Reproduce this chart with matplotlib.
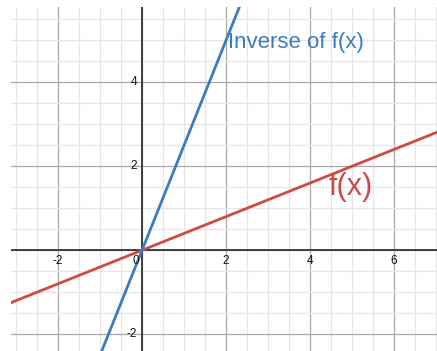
import numpy as np
import matplotlib.pyplot as plt
from matplotlib.ticker import MultipleLocator

# f(x) = 0.4x and its inverse 2.5x
f_slope = 0.4
inv_slope = 2.5
x_line = np.array([-3.2, 7.2])
x_inv = np.array([-1.0, 2.4])

x_ticks = [-2, 2, 4, 6]
y_ticks = [-2, 2, 4]

blue = '#3d7cc0'
red = '#cc4b47'

fig = plt.figure(figsize=(4.37, 3.51), dpi=100)
ax = fig.add_axes([11 / 437, 0, 426 / 437, 344 / 351])
ax.set_xlim(-3.12, 7.02)
ax.set_ylim(-2.40, 5.79)

# grid
ax.xaxis.set_major_locator(MultipleLocator(2))
ax.yaxis.set_major_locator(MultipleLocator(2))
ax.xaxis.set_minor_locator(MultipleLocator(0.5))
ax.yaxis.set_minor_locator(MultipleLocator(0.5))
ax.grid(which='minor', color='#e6e6e6', lw=0.9)
ax.grid(which='major', color='#a8a8a8', lw=0.9)
ax.set_axisbelow(True)
ax.tick_params(which='both', length=0, labelbottom=False, labelleft=False)
for s in ax.spines.values():
    s.set_visible(False)

ax.axhline(0, color='#333333', lw=1.3)
ax.axvline(0, color='#333333', lw=1.3)

ax.plot(x_line, f_slope * x_line, color=red, lw=2)
ax.plot(x_inv, inv_slope * x_inv, color=blue, lw=2)

# tick labels
for t in x_ticks:
    ax.text(t, -0.12, str(t), ha='center', va='top', fontsize=8.5, color='#111111',
            family='Liberation Sans')
for t in y_ticks:
    ax.text(-0.12, t, str(t), ha='right', va='center', fontsize=8.5, color='#111111',
            family='Liberation Sans')
ax.text(-0.08, -0.12, '0', ha='right', va='top', fontsize=8.5, color='#111111',
        family='Liberation Sans')

ax.text(2.05, 4.95, 'Inverse of f(x)', color=blue, fontsize=16, va='center', ha='left',
        family='Liberation Sans')
ax.text(4.45, 1.5, 'f(x)', color=red, fontsize=22, va='center', ha='left',
        family='Liberation Sans')

fig.savefig('out.png', dpi=100)
